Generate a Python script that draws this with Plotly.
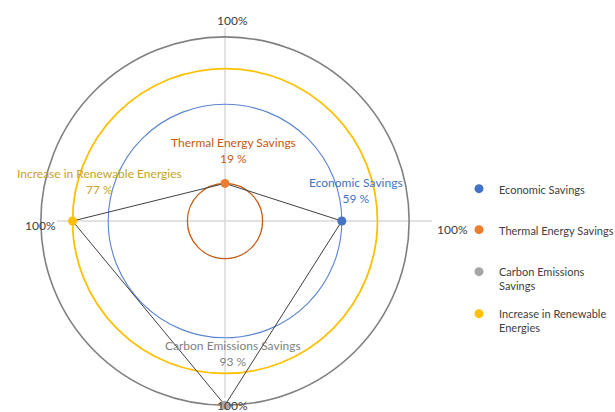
import plotly.graph_objects as go

# ---- data ----
categories = ["Economic Savings", "Thermal Energy Savings", "Carbon Emissions Savings", "Increase in Renewable Energies"]
legend_names = ["Economic Savings", "Thermal Energy Savings", "Carbon Emissions<br>Savings", "Increase in Renewable<br>Energies"]
values = [59, 19, 93, 77]          # percent
directions = [(1, 0), (0, 1), (0, -1), (-1, 0)]   # right, up, down, left
axis_tick_label = "100%"

# ---- styles / layout ----
W, H = 615, 412
CX, CY, S = 225, 221, 1.98          # pixel of origin, pixels per unit
marker_colors = ["#4472C4", "#ED7D31", "#A5A5A5", "#FFC000"]
circle_colors = ["#5B84CF", "#C55A11", "#7F7F7F", "#FFC000"]
circle_widths = [1.1, 1.3, 1.6, 1.8]
label_colors = ["#4472C4", "#C55A11", "#7F7F7F", "#C9A227"]
label_shift = [(14, 31), (8, 33), (8, 52), (27, 40)]   # pixel offsets of data labels
legend_top_px = [175, 216, 258, 300]
legend_left_px = 459
axis_label_px = [(232, 21), (40, 225), (452, 229), (232, 405)]
FONT = "Lato"

def px_x(p):
    return p / W

def px_y(p):
    return 1 - p / H

xs = [v * d[0] for v, d in zip(values, directions)]
ys = [v * d[1] for v, d in zip(values, directions)]

fig = go.Figure()

shapes = []
# axis lines
h_left, h_right = (57 - CX) / S, (432 - CX) / S
v_top, v_bottom = (CY - 28) / S, (CY - 398) / S
shapes.append(dict(type="line", xref="x", yref="y", x0=h_left, x1=h_right, y0=0, y1=0,
                   line=dict(color="#D9D9D9", width=1.5), layer="below"))
shapes.append(dict(type="line", xref="x", yref="y", x0=0, x1=0, y0=v_bottom, y1=v_top,
                   line=dict(color="#D9D9D9", width=1.5), layer="below"))
# circles for each value
for v, c, w in zip(values, circle_colors, circle_widths):
    shapes.append(dict(type="circle", xref="x", yref="y", x0=-v, x1=v, y0=-v, y1=v,
                       line=dict(color=c, width=w), layer="below"))

# connecting polygon: Economic -> Thermal -> Renewable -> Carbon -> Economic
order = [0, 1, 3, 2, 0]
fig.add_trace(go.Scatter(x=[xs[i] for i in order], y=[ys[i] for i in order],
                         mode="lines", line=dict(color="#404040", width=1),
                         showlegend=False, hoverinfo="skip"))

legend_keys = ["legend", "legend2", "legend3", "legend4"]
for i in range(4):
    fig.add_trace(go.Scatter(x=[xs[i]], y=[ys[i]], mode="markers", name=legend_names[i],
                             marker=dict(color=marker_colors[i], size=9),
                             legend=legend_keys[i]))

annotations = []
for i in range(4):
    annotations.append(dict(x=xs[i], y=ys[i], xref="x", yref="y", showarrow=False,
                            xanchor="center", yanchor="middle",
                            text=f"{categories[i]}<br>{values[i]} %",
                            xshift=label_shift[i][0], yshift=label_shift[i][1],
                            font=dict(family=FONT, size=12, color=label_colors[i])))

# axis end labels
for (ax_x, ax_y) in axis_label_px:
    annotations.append(dict(x=px_x(ax_x), y=px_y(ax_y), xref="paper", yref="paper",
                            xanchor="center", yanchor="middle",
                            showarrow=False, text=axis_tick_label,
                            font=dict(family=FONT, size=12, color="#404040")))

layout_legends = {}
for i, key in enumerate(legend_keys):
    layout_legends[key] = dict(x=px_x(legend_left_px), y=px_y(legend_top_px[i]),
                               xanchor="left", yanchor="top",
                               valign="top", bgcolor="rgba(0,0,0,0)",
                               font=dict(family=FONT, size=11, color="#404040"))

fig.update_layout(
    width=W, height=H,
    margin=dict(l=0, r=0, t=0, b=0, autoexpand=False),
    paper_bgcolor="white", plot_bgcolor="white",
    shapes=shapes, annotations=annotations,
    xaxis=dict(range=[-CX / S, (W - CX) / S], showgrid=False, showticklabels=False,
               ticks="", zeroline=False, showline=False),
    yaxis=dict(range=[-(H - CY) / S, CY / S], showgrid=False, showticklabels=False,
               ticks="", zeroline=False, showline=False),
    showlegend=True,
    **layout_legends,
)

fig.write_html("out.html")
